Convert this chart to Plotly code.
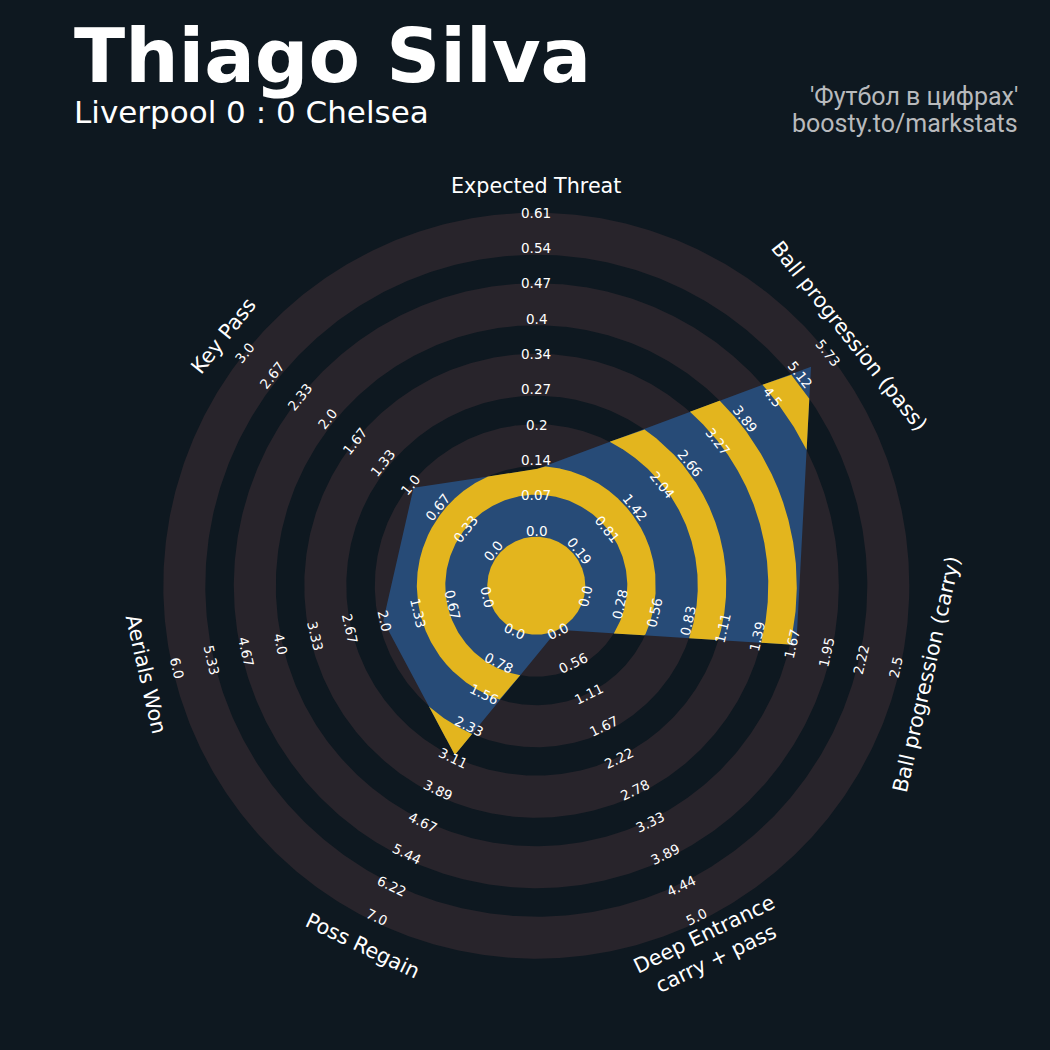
import numpy as np
import plotly.graph_objects as go

# ---------------- data ----------------
params = ["Expected Threat", "Ball progression (pass)", "Ball progression (carry)",
          "Deep Entrance<br>carry + pass", "Poss Regain", "Aerials Won", "Key Pass"]
values = [0.127, 5.36, 1.68, 0.0, 3.0, 2.0, 1.0]
range_min = [0.0, 0.19, 0.0, 0.0, 0.0, 0.0, 0.0]
range_max = [0.61, 5.73, 2.5, 5.0, 7.0, 6.0, 3.0]
tick_labels = [
    ["0.0", "0.07", "0.14", "0.2", "0.27", "0.34", "0.4", "0.47", "0.54", "0.61"],
    ["0.19", "0.81", "1.42", "2.04", "2.66", "3.27", "3.89", "4.5", "5.12", "5.73"],
    ["0.0", "0.28", "0.56", "0.83", "1.11", "1.39", "1.67", "1.95", "2.22", "2.5"],
    ["0.0", "0.56", "1.11", "1.67", "2.22", "2.78", "3.33", "3.89", "4.44", "5.0"],
    ["0.0", "0.78", "1.56", "2.33", "3.11", "3.89", "4.67", "5.44", "6.22", "7.0"],
    ["0.0", "0.67", "1.33", "2.0", "2.67", "3.33", "4.0", "4.67", "5.33", "6.0"],
    ["0.0", "0.33", "0.67", "1.0", "1.33", "1.67", "2.0", "2.33", "2.67", "3.0"],
]
title_text = "Thiago Silva"
subtitle_text = "Liverpool 0 : 0 Chelsea"
credit_lines = ["'Футбол в цифрах'", "boosty.to/markstats"]

# ---------------- style / geometry ----------------
BG = "#0e1820"
RING_GRAY = "#28242b"
BLUE = "#274b77"
YELLOW = "#e3b51e"
W, H = 1050, 1050
CX, CY = 536.3, 585.7          # radar centre in page pixels (from top-left)
R_CENTER = 49.0
R_OUTER = 373.0
WIDE = 42.0
NARROW = (R_OUTER - R_CENTER - 5 * WIDE) / 4
R_PARAM = 400.0
LAB_R0, LAB_R9 = 52.5, 370.7    # radial span of the range labels
LAB_SHIFT = 2.5                 # baseline offset of labels (text "up" direction)

n = len(params)
ang_deg = 90 - np.arange(n) * 360.0 / n
ang = np.deg2rad(ang_deg)


def val_to_r(v, lo, hi):
    return R_CENTER + (v - lo) / (hi - lo) * (R_OUTER - R_CENTER)


bounds = [R_CENTER]
for k in range(9):
    bounds.append(bounds[-1] + (WIDE if k % 2 == 0 else NARROW))

fig = go.Figure()


def add_fill(xs, ys, color):
    fig.add_trace(go.Scatter(x=xs, y=ys, mode="lines", fill="toself", fillcolor=color,
                             line=dict(width=0, color=color), hoverinfo="skip",
                             showlegend=False))


th = np.linspace(0, 2 * np.pi, 721)
# background wide rings
for k in range(0, 9, 2):
    r1, r2 = bounds[k], bounds[k + 1]
    xs = np.concatenate([r2 * np.cos(th), r1 * np.cos(th[::-1])])
    ys = np.concatenate([r2 * np.sin(th), r1 * np.sin(th[::-1])])
    add_fill(xs, ys, RING_GRAY)

# radar polygon
radii = np.array([val_to_r(v, lo, hi) for v, lo, hi in zip(values, range_min, range_max)])
vx = radii * np.cos(ang)
vy = radii * np.sin(ang)
add_fill(np.append(vx, vx[0]), np.append(vy, vy[0]), BLUE)

# dense sampling of polygon boundary (closed, clockwise)
px_list, py_list = [], []
for i in range(n):
    j = (i + 1) % n
    t = np.linspace(0, 1, 600, endpoint=False)
    px_list.append(vx[i] + t * (vx[j] - vx[i]))
    py_list.append(vy[i] + t * (vy[j] - vy[i]))
px = np.concatenate(px_list)
py = np.concatenate(py_list)
prr = np.hypot(px, py)
N = len(px)

# yellow narrow rings clipped to polygon, split into separate pieces
for k in range(1, 9, 2):
    r1, r2 = bounds[k], bounds[k + 1]
    mask = prr > r1
    if not mask.any():
        continue
    start = int(np.argmin(mask))  # an index outside
    idx = np.roll(np.arange(N), -start)
    m = mask[idx]
    runs = []
    cur = None
    for q in range(N):
        if m[q] and cur is None:
            cur = q
        if not m[q] and cur is not None:
            runs.append((cur, q - 1))
            cur = None
    if cur is not None:
        runs.append((cur, N - 1))
    for s, e in runs:
        ii = idx[s:e + 1]
        i_prev = idx[s - 1]
        i_next = idx[(e + 1) % N]

        def cross(a, b):
            ra, rb = prr[a], prr[b]
            f = (r1 - ra) / (rb - ra)
            x = px[a] + f * (px[b] - px[a])
            y = py[a] + f * (py[b] - py[a])
            return x, y

        x0, y0 = cross(i_prev, ii[0])
        x1, y1 = cross(ii[-1], i_next)
        ox = np.concatenate([[x0], px[ii], [x1]])
        oy = np.concatenate([[y0], py[ii], [y1]])
        ot = np.unwrap(np.arctan2(oy, ox))
        orr = np.clip(np.hypot(ox, oy), r1, r2)
        outer_x = orr * np.cos(ot)
        outer_y = orr * np.sin(ot)
        arc = np.linspace(ot[-1], ot[0], 300)
        xs = np.concatenate([outer_x, r1 * np.cos(arc)])
        ys = np.concatenate([outer_y, r1 * np.sin(arc)])
        add_fill(xs, ys, YELLOW)

# centre circle
add_fill(R_CENTER * np.cos(th), R_CENTER * np.sin(th), YELLOW)


def text_angle(a):
    rot = a - 90.0
    while rot <= -90:
        rot += 180
    while rot > 90:
        rot -= 180
    return -rot


ann = []
for i in range(n):
    ta = text_angle(ang_deg[i])
    upx, upy = np.sin(np.deg2rad(ta)), np.cos(np.deg2rad(ta))
    ann.append(dict(x=R_PARAM * np.cos(ang[i]), y=R_PARAM * np.sin(ang[i]), xref="x", yref="y",
                    text=params[i], showarrow=False, textangle=ta,
                    font=dict(family="DejaVu Sans", size=20.7, color="white"),
                    xanchor="center", yanchor="middle"))
    for j, lab in enumerate(tick_labels[i]):
        r = LAB_R0 + j * (LAB_R9 - LAB_R0) / 9
        ann.append(dict(x=r * np.cos(ang[i]) + LAB_SHIFT * upx,
                        y=r * np.sin(ang[i]) + LAB_SHIFT * upy, xref="x", yref="y",
                        text=lab, showarrow=False, textangle=ta,
                        font=dict(family="DejaVu Sans", size=13.5, color="white"),
                        xanchor="center", yanchor="middle"))

ann.append(dict(x=72 / W, y=1 - 56.5 / H, xref="paper", yref="paper", text="<b>%s</b>" % title_text,
                showarrow=False, xanchor="left", yanchor="middle",
                font=dict(family="DejaVu Sans", size=75, color="white")))
ann.append(dict(x=72 / W, y=1 - 112 / H, xref="paper", yref="paper", text=subtitle_text,
                showarrow=False, xanchor="left", yanchor="middle",
                font=dict(family="DejaVu Sans", size=31, color="white")))
for k, line in enumerate(credit_lines):
    ann.append(dict(x=1020 / W, y=1 - (96.5 + 26.7 * k) / H, xref="paper", yref="paper", text=line,
                    showarrow=False, xanchor="right", yanchor="middle",
                    font=dict(family="Roboto", size=25, color="#b8babd")))

fig.update_layout(
    width=W, height=H, margin=dict(l=0, r=0, t=0, b=0),
    paper_bgcolor=BG, plot_bgcolor=BG,
    xaxis=dict(range=[-CX, W - CX], visible=False, domain=[0, 1], fixedrange=True),
    yaxis=dict(range=[-(H - CY), CY], visible=False, domain=[0, 1], fixedrange=True),
    annotations=ann, showlegend=False,
)
fig.write_html("out.html", config={"displayModeBar": False},
               post_script="document.body.style.margin='0';")
